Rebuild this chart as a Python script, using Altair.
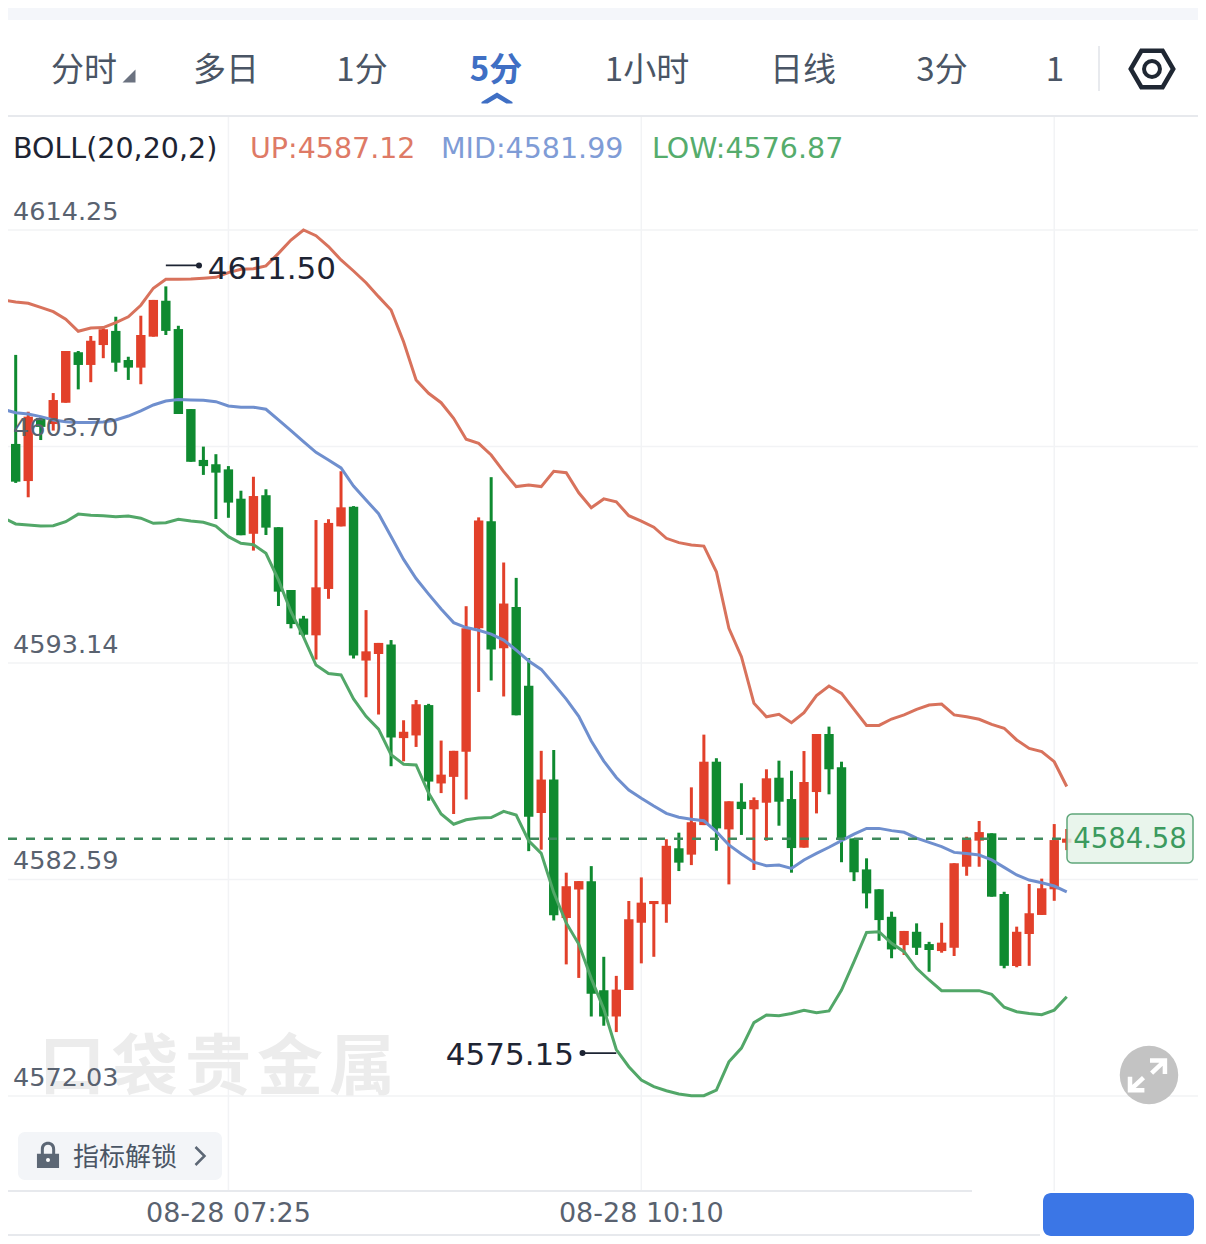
import altair as alt
import pandas as pd

# candle data, first one is the partial bar at the left edge
opens = [4600.70, 4603.82, 4602.01, 4605.08, 4604.79, 4605.83, 4608.29, 4607.67, 4608.64, 4609.33, 4607.91, 4607.54,
         4609.05, 4610.80, 4609.42, 4605.52, 4603.04, 4602.83, 4602.58, 4601.15, 4599.44, 4601.32, 4599.76, 4596.70,
         4595.31, 4594.49, 4596.75, 4599.80, 4600.76, 4593.26, 4593.58, 4594.04, 4589.48, 4589.61, 4591.09, 4587.27,
         4587.59, 4588.82, 4594.83, 4600.05, 4593.86, 4595.87, 4592.03, 4585.83, 4587.46, 4580.71, 4582.10, 4582.50,
         4577.19, 4575.91, 4577.20, 4580.48, 4581.39, 4581.38, 4584.11, 4583.80, 4585.24, 4588.33, 4585.03, 4586.38,
         4586.01, 4586.33, 4587.55, 4586.51, 4584.14, 4586.85, 4589.68, 4588.06, 4584.59, 4583.08, 4582.11, 4580.77,
         4579.39, 4580.04, 4579.44, 4579.10, 4579.26, 4583.21, 4584.48, 4584.84, 4581.88, 4578.37, 4579.93, 4580.86,
         4582.11, 4584.38]
closes = [4601.67, 4601.98, 4605.15, 4604.65, 4605.96, 4608.35, 4607.67, 4608.85, 4609.41, 4607.78, 4607.54, 4609.13,
          4610.84, 4609.33, 4605.28, 4602.95, 4602.74, 4602.42, 4600.96, 4599.37, 4601.28, 4599.74, 4596.62, 4595.04,
          4594.52, 4596.83, 4599.97, 4600.73, 4593.51, 4593.71, 4594.12, 4589.51, 4589.79, 4591.13, 4587.36, 4587.70,
          4588.86, 4594.83, 4600.09, 4593.80, 4596.04, 4590.59, 4585.65, 4587.46, 4580.84, 4582.26, 4582.51, 4577.02,
          4575.91, 4577.22, 4580.65, 4581.46, 4581.54, 4584.23, 4583.41, 4585.38, 4588.33, 4585.08, 4586.40, 4586.02,
          4586.46, 4587.52, 4586.38, 4584.12, 4587.34, 4589.68, 4587.96, 4584.51, 4582.94, 4581.91, 4580.61, 4579.18,
          4580.08, 4579.26, 4579.15, 4579.51, 4583.38, 4584.55, 4584.90, 4581.75, 4578.38, 4580.04, 4580.94, 4582.16,
          4584.51, 4584.58]
highs = [4601.67, 4608.16, 4605.39, 4605.13, 4606.30, 4608.35, 4608.35, 4609.08, 4609.46, 4610.02, 4608.07, 4610.07,
         4610.84, 4611.50, 4609.58, 4605.52, 4603.69, 4603.32, 4602.74, 4601.54, 4602.22, 4601.61, 4599.76, 4596.70,
         4595.44, 4600.11, 4600.15, 4602.49, 4600.79, 4595.72, 4594.12, 4594.26, 4590.35, 4591.34, 4591.15, 4589.36,
         4588.86, 4595.91, 4600.24, 4602.20, 4598.04, 4597.29, 4593.38, 4588.86, 4588.90, 4582.92, 4582.51, 4583.24,
         4578.82, 4577.89, 4581.54, 4582.69, 4581.54, 4584.55, 4584.87, 4587.08, 4589.65, 4588.50, 4586.40, 4587.28,
         4586.59, 4587.96, 4588.38, 4587.89, 4588.85, 4589.68, 4590.04, 4588.33, 4584.59, 4583.62, 4582.11, 4581.02,
         4580.08, 4580.45, 4579.55, 4580.48, 4583.38, 4584.67, 4585.44, 4584.84, 4581.99, 4580.29, 4582.37, 4582.63,
         4585.29, 4585.05]
lows = [4600.70, 4601.92, 4601.22, 4604.01, 4604.47, 4605.83, 4606.48, 4606.83, 4608.00, 4607.34, 4606.94, 4606.73,
        4609.05, 4609.13, 4605.28, 4602.95, 4602.31, 4600.16, 4600.22, 4599.37, 4598.62, 4599.38, 4595.92, 4594.83,
        4594.42, 4593.31, 4596.27, 4599.80, 4593.36, 4591.47, 4590.63, 4588.11, 4588.35, 4589.05, 4586.43, 4586.80,
        4585.78, 4586.49, 4591.73, 4592.29, 4591.51, 4590.59, 4583.97, 4584.04, 4580.59, 4578.45, 4577.79, 4575.91,
        4575.46, 4575.15, 4577.20, 4578.50, 4578.82, 4580.48, 4583.00, 4583.29, 4585.24, 4583.99, 4582.35, 4584.76,
        4583.05, 4584.48, 4585.21, 4582.92, 4584.14, 4585.81, 4586.74, 4583.43, 4582.51, 4581.18, 4579.60, 4578.75,
        4578.91, 4578.91, 4578.09, 4579.02, 4578.86, 4582.77, 4583.21, 4581.75, 4578.26, 4578.31, 4578.38, 4580.86,
        4581.55, 4584.02]

# Bollinger bands, one value per candle
boll_up = [4610.84, 4610.74, 4610.68, 4610.48, 4610.27, 4609.90, 4609.31, 4609.47, 4609.49, 4609.73, 4610.02, 4610.58,
           4611.41, 4611.85, 4611.85, 4611.86, 4611.90, 4611.94, 4612.17, 4612.33, 4612.36, 4612.50, 4613.11, 4613.76,
           4614.25, 4613.97, 4613.44, 4612.79, 4612.25, 4611.68, 4611.00, 4610.35, 4608.80, 4606.94, 4606.29, 4605.83,
           4605.07, 4604.05, 4603.85, 4603.28, 4602.47, 4601.74, 4601.82, 4601.74, 4602.49, 4602.42, 4601.44, 4600.71,
           4601.14, 4601.00, 4600.32, 4600.06, 4599.76, 4599.22, 4599.01, 4598.89, 4598.84, 4597.59, 4594.83, 4593.45,
           4591.18, 4590.52, 4590.64, 4590.23, 4590.72, 4591.55, 4592.02, 4591.66, 4590.88, 4590.10, 4590.10, 4590.41,
           4590.61, 4590.88, 4591.09, 4591.14, 4590.61, 4590.52, 4590.40, 4590.15, 4589.96, 4589.39, 4588.98, 4588.82,
           4588.33, 4587.12]
boll_mid = [4605.51, 4605.34, 4605.28, 4605.15, 4604.99, 4604.90, 4604.86, 4604.86, 4604.89, 4604.99, 4605.18, 4605.43,
            4605.72, 4605.91, 4605.98, 4605.96, 4605.95, 4605.88, 4605.67, 4605.61, 4605.61, 4605.51, 4604.99, 4604.47,
            4603.93, 4603.41, 4603.04, 4602.65, 4601.77, 4601.09, 4600.42, 4599.31, 4598.19, 4597.26, 4596.50, 4595.77,
            4595.11, 4594.87, 4594.74, 4594.55, 4594.26, 4593.77, 4593.24, 4592.83, 4592.12, 4591.38, 4590.54, 4589.34,
            4588.36, 4587.56, 4586.95, 4586.55, 4586.17, 4585.81, 4585.62, 4585.52, 4585.45, 4584.92, 4584.27, 4583.83,
            4583.43, 4583.26, 4583.29, 4583.13, 4583.54, 4583.86, 4584.16, 4584.48, 4584.80, 4585.08, 4585.08, 4584.97,
            4584.89, 4584.60, 4584.40, 4584.19, 4583.91, 4583.86, 4583.78, 4583.54, 4583.18, 4582.81, 4582.56, 4582.43,
            4582.27, 4581.99]
boll_low = [4600.22, 4599.92, 4599.87, 4599.82, 4599.83, 4600.03, 4600.40, 4600.34, 4600.32, 4600.27, 4600.31, 4600.20,
            4599.95, 4599.98, 4600.15, 4600.06, 4600.00, 4599.82, 4599.30, 4598.98, 4598.91, 4598.49, 4597.19, 4595.64,
            4594.42, 4593.04, 4592.63, 4592.56, 4591.39, 4590.54, 4589.92, 4588.67, 4588.21, 4588.17, 4586.80, 4585.78,
            4585.28, 4585.50, 4585.59, 4585.61, 4585.91, 4585.73, 4584.47, 4583.86, 4581.95, 4580.47, 4579.44, 4577.76,
            4576.27, 4574.30, 4573.46, 4572.81, 4572.49, 4572.29, 4572.13, 4572.05, 4572.05, 4572.32, 4573.70, 4574.37,
            4575.61, 4575.98, 4575.95, 4576.06, 4576.21, 4576.09, 4576.18, 4577.20, 4578.58, 4580.01, 4580.04, 4579.48,
            4579.07, 4578.26, 4577.69, 4577.17, 4577.17, 4577.17, 4577.17, 4576.99, 4576.36, 4576.14, 4576.06, 4576.00,
            4576.22, 4576.87]

y_ticks = [4614.25, 4603.70, 4593.14, 4582.59, 4572.03]
x_grid = [17, 50, 83]
x_tick_idx = [17, 50]
x_tick_labels = ["08-28 07:25", "08-28 10:10"]
tabs = ["分时", "多日", "1分", "5分", "1小时", "日线", "3分", "1"]
tab_centers = [84, 226, 362, 496, 647, 803, 942, 1055]
watermark = ["口", "袋", "贵", "金", "属"]
watermark_centers = [72, 145, 218, 290, 362]
last_price = 4584.58
hi_idx, hi_price = 12, 4611.50
lo_idx, lo_price = 48, 4575.15

W, H = 1190, 1228
NUM = "DejaVu Sans"
CJK = "Noto Sans CJK SC"
RED, GREEN = "#E2402A", "#0F8A30"
UP_C, MID_C, LOW_C = "#D8725C", "#6F8FCE", "#52A768"
GRID, BORDER = "#F2F3F5", "#E7E9ED"

# padding=0 matters here: bars on a continuous x get extra scale padding otherwise
x_scale = alt.Scale(domain=[-0.615, 94.49], nice=False, zero=False, padding=0)
y_scale = alt.Scale(domain=[4565.21, 4625.07], nice=False, zero=False)
X = alt.X("i:Q", scale=x_scale, axis=None)
Y = alt.Y("p:Q", scale=y_scale, axis=None)

one = alt.Data(values=[{"a": 1}])


def text(s, x, y, size, color, align="left", weight="normal", font=NUM):
    # chrome text, x/y are picture pixels
    return alt.Chart(alt.Data(values=[{"t": s}])).mark_text(
        font=font, fontSize=size, color=color, align=align, baseline="middle", fontWeight=weight
    ).encode(x=alt.value(x - 8), y=alt.value(y - 8), text="t:N")


def box(x0, x1, y0, y1, color, **kw):
    return alt.Chart(one).mark_rect(color=color, **kw).encode(
        x=alt.value(x0 - 8), x2=alt.value(x1 - 8), y=alt.value(y0 - 8), y2=alt.value(y1 - 8)
    )


def icon(path, x, y, size, **kw):
    return alt.Chart(one).mark_point(shape=path, size=size, opacity=1, **kw).encode(
        x=alt.value(x - 8), y=alt.value(y - 8)
    )


idx = list(range(-1, 85))
candles = pd.DataFrame({"i": idx, "o": opens, "c": closes, "h": highs, "l": lows})
candles["dir"] = ["up" if c >= o else "down" for o, c in zip(opens, closes)]
col = alt.Color("dir:N", scale=alt.Scale(domain=["up", "down"], range=[RED, GREEN]), legend=None)

wicks = alt.Chart(candles).mark_rule(strokeWidth=3).encode(
    x=X, y=alt.Y("h:Q", scale=y_scale, axis=None), y2="l:Q", color=col
)
bodies = alt.Chart(candles).mark_bar(size=9.4).encode(
    x=X, y=alt.Y("o:Q", scale=y_scale, axis=None), y2="c:Q", color=col
)


def band(values, color):
    return alt.Chart(pd.DataFrame({"i": idx, "p": values})).mark_line(color=color, strokeWidth=3).encode(x=X, y=Y)


# grid and frame
h_grid = alt.Chart(pd.DataFrame({"p": y_ticks})).mark_rule(color=GRID, strokeWidth=1.5).encode(
    y=Y, x=alt.value(0), x2=alt.value(W)
)
v_grid = alt.Chart(pd.DataFrame({"i": x_grid})).mark_rule(color=GRID, strokeWidth=1.5).encode(
    x=X, y=alt.value(108), y2=alt.value(1183)
)
frame = [
    box(8, 1198, 115, 117, BORDER),
    box(8, 972, 1190, 1192, BORDER),
    box(8, 1040, 1234, 1236, BORDER),
]

# price labels sit just above their grid lines, on top of the candles
y_labels = alt.Chart(pd.DataFrame({"p": y_ticks, "t": [f"{v:.2f}" for v in y_ticks]})).mark_text(
    font=NUM, fontSize=25.5, color="#596270", align="left", baseline="middle", dy=-18
).encode(y=Y, x=alt.value(13 - 8), text="t:N")
x_labels = alt.Chart(pd.DataFrame({"i": x_tick_idx, "t": x_tick_labels})).mark_text(
    font=NUM, fontSize=27, color="#596270", align="center", baseline="middle"
).encode(x=X, y=alt.value(1214 - 8), text="t:N")

# latest price
last_df = pd.DataFrame({"p": [last_price], "a": [-0.615], "b": [84]})
last_line = alt.Chart(last_df).mark_rule(color="#3E8A5C", strokeWidth=2.5, strokeDash=[9, 9]).encode(
    y=Y, x=alt.X("a:Q", scale=x_scale, axis=None), x2="b:Q"
)

# high / low callouts
hi_df = pd.DataFrame({"a": [hi_idx], "b": [14.65], "p": [hi_price], "t": [f"{hi_price:.2f}"], "c": [15.35]})
lo_df = pd.DataFrame({"a": [lo_idx], "b": [45.3], "p": [lo_price], "t": [f"{lo_price:.2f}"], "c": [44.62]})


def callout(df, off, txt_off, align):
    a = alt.X("a:Q", scale=x_scale, axis=None)
    line = alt.Chart(df).mark_rule(color="#1D2433", strokeWidth=1.8, yOffset=off).encode(x=a, x2="b:Q", y=Y)
    dot = alt.Chart(df).mark_circle(color="#1D2433", size=36, opacity=1, yOffset=off).encode(
        x=alt.X("b:Q", scale=x_scale, axis=None), y=Y
    )
    lab = alt.Chart(df).mark_text(
        font=NUM, fontSize=31, color="#1D2433", align=align, baseline="middle", dy=txt_off
    ).encode(x=alt.X("c:Q", scale=x_scale, axis=None), y=Y, text="t:N")
    return [line, dot, lab]


layers = [box(8, 1198, 8, 20, "#F4F6FA")]
layers += [h_grid, v_grid] + frame
for ch, cx in zip(watermark, watermark_centers):
    layers.append(text(ch, cx, 1069, 66, "#ECECEC", align="center", weight="bold", font=CJK))
layers += [wicks, bodies, band(boll_up, UP_C), band(boll_mid, MID_C), band(boll_low, LOW_C), last_line, y_labels, x_labels]
layers += callout(hi_df, -21, -16, "left")
layers += callout(lo_df, 21, 24, "right")

# last price tag
layers.append(box(1067, 1193, 814, 863, "#E5F3E9", cornerRadius=5, stroke="#5FA77A", strokeWidth=1.5, fillOpacity=0.85))
layers.append(text(f"{last_price:.2f}", 1130, 840, 27.5, "#3C9A5E", align="center"))

# tab row
for label, cx in zip(tabs, tab_centers):
    active = label == "5分"
    layers.append(text(label, cx, 71, 33, "#3F6FC4" if active else "#4A5565", align="center",
                       weight="bold" if active else "normal", font=CJK))
layers.append(icon("M1,-1 L1,1 L-1,1 Z", 129, 76, 169, filled=True, color="#6B7280", strokeWidth=0))
layers.append(icon("M-1,0.25 L0,-0.35 L1,0.25 L1,0.35 L0.6,0.35 L0,0 L-0.6,0.35 L-1,0.35 Z", 497, 98, 961,
                   filled=True, color="#3F6FC4", strokeWidth=0))
layers.append(box(1098, 1100, 46, 91, "#E8EAEE"))
layers.append(icon("M-1,0 L-0.5,-0.86 L0.5,-0.86 L1,0 L0.5,0.86 L-0.5,0.86 Z", 1152, 69, 1800,
                   filled=False, color="#1F2733", strokeWidth=4.5))
layers.append(icon("circle", 1152, 69, 254, filled=False, color="#1F2733", strokeWidth=4))

# indicator legend
layers.append(text("BOLL(20,20,2)", 13, 149, 28.5, "#1D2433"))
layers.append(text("UP:4587.12", 250, 149, 28.5, "#DE7A66"))
layers.append(text("MID:4581.99", 441, 149, 28.5, "#7F9CD6"))
layers.append(text("LOW:4576.87", 652, 149, 28.5, "#55AC6C"))

# unlock button
layers.append(box(18, 222, 1132, 1180, "#F3F5F8", cornerRadius=7))
layers.append(icon("M-0.85,-0.1 L0.85,-0.1 L0.85,1 L-0.85,1 Z M-0.55,-0.1 L-0.55,-0.45 C-0.55,-1.2 0.55,-1.2 0.55,-0.45 "
                   "L0.55,-0.1 L0.32,-0.1 L0.32,-0.45 C0.32,-0.9 -0.32,-0.9 -0.32,-0.45 L-0.32,-0.1 Z",
                   48, 1155, 676, filled=True, color="#5C6775", strokeWidth=0))
layers.append(icon("circle", 48, 1160, 16, filled=True, color="#FFFFFF", strokeWidth=0))
layers.append(text("指标解锁", 73, 1158, 26, "#4A5565", font=CJK))
layers.append(icon("M-0.5,-1 L0.5,0 L-0.5,1", 200, 1156, 324, filled=False, color="#5C6775", strokeWidth=2.5))

# expand button
layers.append(icon("circle", 1149, 1075, 3421, filled=True, color="#C3C3C3", strokeWidth=0))
layers.append(icon("M0.11,-0.8 L0.94,-0.8 L0.94,-0.05 M0.85,-0.72 L0.2,-0.1 M-1,0.1 L-1,0.85 L-0.2,0.85 M-0.9,0.75 L-0.25,0.15",
                   1148, 1075, 1296, filled=False, color="#FFFFFF", strokeWidth=4.5))

# blue button bottom right
layers.append(box(1043, 1194, 1193, 1236, "#3B76E6", cornerRadius=8))

chart = alt.layer(*layers).properties(
    width=W, height=H, padding=0, autosize=alt.AutoSizeParams(type="none")
).configure_view(stroke=None)

chart.save("out.html", embed_options={"renderer": "svg", "actions": False})
